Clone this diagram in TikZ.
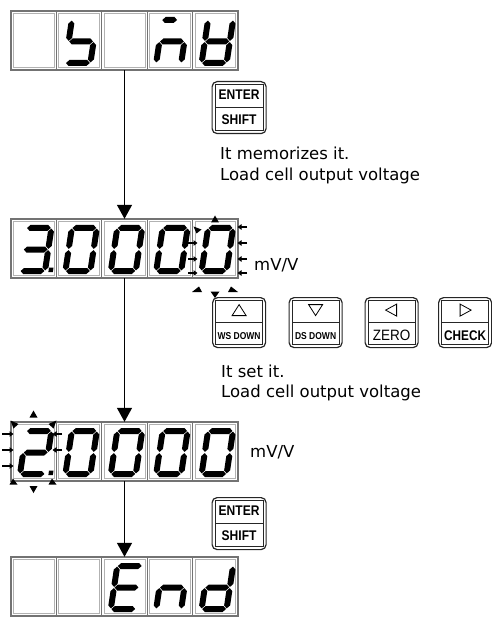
\documentclass[tikz,border=0pt]{standalone}
\usepackage{graphicx}
\usepackage{fontspec}
\setmainfont{DejaVu Sans}
\newfontfamily\keyfont{Liberation Sans}
\usetikzlibrary{arrows.meta,calc}

% seven-segment helpers (local coords, y downwards)
\newcommand{\hseg}[3]{\fill ({#1+0.6},#3) -- ({#1+3.6},{#3-3}) -- ({#2-3.6},{#3-3}) -- ({#2-0.6},#3) -- ({#2-3.6},{#3+3}) -- ({#1+3.6},{#3+3}) -- cycle;}
\newcommand{\vseg}[3]{\fill (#1,{#2+0.6}) -- ({#1+3},{#2+3.6}) -- ({#1+3},{#3-3.6}) -- (#1,{#3-0.6}) -- ({#1-3},{#3-3.6}) -- ({#1-3},{#2+3.6}) -- cycle;}
\newcommand{\dsega}{\hseg{9}{34}{-43}}
\newcommand{\dsegb}{\vseg{34}{-43}{-21.5}}
\newcommand{\dsegc}{\vseg{34}{-21.5}{0}}
\newcommand{\dsegd}{\hseg{9}{34}{0}}
\newcommand{\dsege}{\vseg{9}{-21.5}{0}}
\newcommand{\dsegf}{\vseg{9}{-43}{-21.5}}
\newcommand{\dsegg}{\hseg{9}{34}{-21.5}}
\newcommand{\dsegq}{\hseg{8}{24}{-43}}
\newcommand{\dsegp}{\fill (37.5,-3.5) rectangle (42,1);}
\newcommand{\sevenseg}[3]{%
  \begin{scope}[shift={(#1,{#2+52})},xslant=0.15]
    \foreach \s in {#3}{\csname dseg\s\endcsname}
  \end{scope}}
\newcommand{\display}[2]{%
  \node[dispnode] (#1) at (124.5,{#2+29.5}) {};
  \foreach \i in {0,...,4}{%
    \draw[cellout] ({11+45.4*\i},#2) rectangle ({11+45.4*(\i+1)},{#2+59});
    \draw[cellin] ({13.3+45.4*\i},{#2+2.3}) rectangle ({8.7+45.4*(\i+1)},{#2+56.7});
  }}
\newcommand{\keyframe}[5]{%
  \node[keyout, minimum width=#4pt, minimum height=#5pt, anchor=north west] (#1) at (#2,#3) {};
  \draw[keyin] ($(#1.north west)+(3.5,3.5)$) rectangle ($(#1.south east)+(-3.5,-3.5)$);
  \draw[keydiv] ($(#1.west)+(3.5,0)$) -- ($(#1.east)+(-3.5,0)$);}

\begin{document}
\begin{tikzpicture}[x=1pt,y=-1pt,
  cellout/.style={draw=black!55, line width=1.3pt},
  cellin/.style={draw=black!30, line width=0.7pt},
  dispnode/.style={rectangle, minimum width=227pt, minimum height=59pt, inner sep=0pt, draw=none},
  flowarrow/.style={line width=1.3pt, -{Triangle[width=15pt,length=14pt]}},
  keyout/.style={rectangle, draw=black!85, line width=1.2pt, rounded corners=5pt, inner sep=0pt},
  keyin/.style={draw=black!85, line width=0.9pt},
  keydiv/.style={draw=black!85, line width=1.3pt},
  tri/.style={draw, line width=0.8pt},
  blink/.style={fill=black},
  tickmark/.style={line width=1.3pt, -{Triangle[length=4pt,width=5.5pt]}},
  lbl/.style={font=\fontsize{16.5}{20}\selectfont, inner sep=0pt, anchor=base west},
  keytxt/.style={inner sep=0pt, font=\keyfont\bfseries\fontsize{14}{14}\selectfont},
  keysmall/.style={inner sep=0pt, font=\keyfont\bfseries\fontsize{10}{10}\selectfont},
  keyreg/.style={inner sep=0pt, font=\keyfont\fontsize{15}{15}\selectfont}
]
\useasboundingbox (0,0) rectangle (491,617);

% ---------------- displays ----------------
\display{d1}{11}
\display{d2}{219}
\display{d3}{422}
\display{d4}{557}

% display 1
\sevenseg{56.4}{11}{f,g,c,d}
\sevenseg{147.2}{11}{q,g,e,c}
\sevenseg{192.6}{11}{b,c,d,e,f,g}
% display 2: 3.0000
\sevenseg{11}{219}{a,b,c,d,g,p}
\foreach \cx in {56.4,101.8,147.2,192.6}{\sevenseg{\cx}{219}{a,b,c,d,e,f}}
% display 3: 2.0000
\sevenseg{11}{422}{a,b,g,e,d,p}
\foreach \cx in {56.4,101.8,147.2,192.6}{\sevenseg{\cx}{422}{a,b,c,d,e,f}}
% display 4: End
\sevenseg{101.8}{557}{a,d,e,f,g}
\sevenseg{147.2}{557}{e,g,c}
\sevenseg{192.6}{557}{b,c,d,e,g}

% blink marks, display 2 last digit
\fill[blink] (211,222.5) -- (219,222.5) -- (215,215.5) -- cycle;
\fill[blink] (193.5,226.5) -- (201.5,229.5) -- (196.5,233.5) -- cycle;
\foreach \yy in {227,243,259,273}{\draw[tickmark] (247,\yy) -- (237.5,\yy);}
\foreach \yy in {243,259,273}{\draw[tickmark] (188,\yy) -- (197.5,\yy);}
\fill[blink] (192,292) -- (202,292) -- (199,286.5) -- cycle;
\fill[blink] (228,292) -- (238,292) -- (231,286.5) -- cycle;
\fill[blink] (210.5,291.5) -- (219.5,291.5) -- (215,298) -- cycle;

% blink marks, display 3 first digit
\fill[blink] (29.5,417.5) -- (37.5,417.5) -- (33.5,410.5) -- cycle;
\fill[blink] (10.5,420.5) -- (18.5,424) -- (13.5,428.5) -- cycle;
\fill[blink] (56.5,420.5) -- (48.5,424) -- (53.5,428.5) -- cycle;
\foreach \yy in {434,450,466}{\draw[tickmark] (2,\yy) -- (13.5,\yy);}
\foreach \yy in {434,450}{\draw[tickmark] (62,\yy) -- (52.5,\yy);}
\fill[blink] (9.5,484.5) -- (17.5,484.5) -- (13,478.5) -- cycle;
\fill[blink] (48.5,484.5) -- (56.5,484.5) -- (52,478.5) -- cycle;
\fill[blink] (29.5,486) -- (37.5,486) -- (33.5,493) -- cycle;

% units
\node[lbl] (u2) at (254,270) {mV/V};
\node[lbl] (u3) at (250,457) {mV/V};

% ---------------- arrows ----------------
\draw[flowarrow] (d1.south) -- (d2.north);
\draw[flowarrow] (d2.south) -- (d3.north);
\draw[flowarrow] (d3.south) -- (d4.north);

% ---------------- keys ----------------
\keyframe{ks1}{211.5}{81}{54}{52}
\node[keytxt] (ks1a) at ($(ks1.center)+(0,-12.5)$) {\scalebox{0.86}[1]{ENTER}};
\node[keytxt] (ks1b) at ($(ks1.center)+(0,12.5)$) {\scalebox{0.86}[1]{SHIFT}};

\keyframe{ks2}{211.5}{497}{54}{52}
\node[keytxt] (ks2a) at ($(ks2.center)+(0,-12.5)$) {\scalebox{0.86}[1]{ENTER}};
\node[keytxt] (ks2b) at ($(ks2.center)+(0,12.5)$) {\scalebox{0.86}[1]{SHIFT}};

\keyframe{kup}{212}{297}{53}{50}
\keyframe{kdn}{288.5}{297}{53}{50}
\keyframe{klf}{364.5}{297}{53}{50}
\keyframe{krt}{438}{297}{53}{50}

\draw[tri] ($(kup.center)+(-7,-7)$) -- ($(kup.center)+(7,-7)$) -- ($(kup.center)+(0,-18)$) -- cycle;
\draw[tri] ($(kdn.center)+(-7,-18)$) -- ($(kdn.center)+(7,-18)$) -- ($(kdn.center)+(0,-7)$) -- cycle;
\draw[tri] ($(klf.center)+(5,-18.5)$) -- ($(klf.center)+(5,-6.5)$) -- ($(klf.center)+(-6,-12.5)$) -- cycle;
\draw[tri] ($(krt.center)+(-5,-18.5)$) -- ($(krt.center)+(-5,-6.5)$) -- ($(krt.center)+(6,-12.5)$) -- cycle;

\node[keysmall] (kupt) at ($(kup.center)+(0,13)$) {\scalebox{0.85}[1]{WS DOWN}};
\node[keysmall] (kdnt) at ($(kdn.center)+(0,13)$) {\scalebox{0.85}[1]{DS DOWN}};
\node[keyreg] (klft) at ($(klf.center)+(0,13)$) {\scalebox{0.9}[1]{ZERO}};
\node[keytxt] (krtt) at ($(krt.center)+(0,13)$) {\scalebox{0.84}[1]{CHECK}};

% ---------------- notes ----------------
\node[lbl] (n1) at (220,160) {It memorizes it.};
\node[lbl] (n2) at (220,181) {Load cell output voltage};
\node[lbl] (n3) at (221,377) {It set it.};
\node[lbl] (n4) at (221,397) {Load cell output voltage};
\end{tikzpicture}
\end{document}
